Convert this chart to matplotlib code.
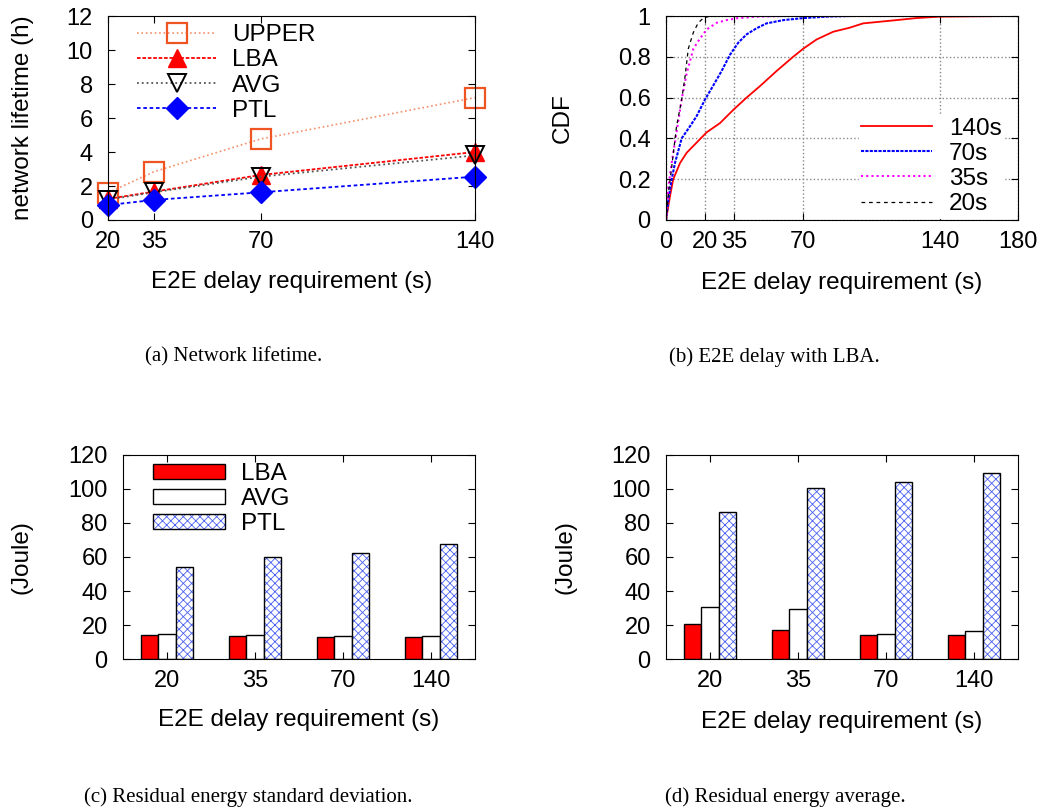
import numpy as np
from matplotlib import pyplot as plt

plt.rcParams['font.family'] = ['Liberation Sans', 'DejaVu Sans']
plt.rcParams['hatch.linewidth'] = 0.6

# (a) network lifetime
delays = [20, 35, 70, 140]
upper = [1.6, 2.84, 4.77, 7.2]
lba = [1.24, 1.67, 2.65, 4.0]
avg = [1.2, 1.63, 2.55, 3.8]
ptl = [0.88, 1.18, 1.63, 2.55]

# (b) CDF of E2E delay with LBA
cdf140_x = [0, 2, 3.7, 7.2, 10.6, 15.7, 20.8, 27.6, 34.4, 41.2, 48, 56.5, 65, 70.2, 77, 85.5, 94, 100.8, 117.8, 128, 140, 175.7]
cdf140_y = [0, 0.115, 0.2, 0.28, 0.33, 0.38, 0.43, 0.475, 0.54, 0.6, 0.656, 0.73, 0.8, 0.84, 0.885, 0.923, 0.943, 0.964, 0.98, 0.99, 0.997, 1.0]
cdf70_x = [0, 1.2, 2.9, 4.6, 8, 12.3, 15.7, 19.9, 24.2, 28.4, 32.7, 37, 41.2, 46.3, 51.4, 60, 70.2, 83.8, 94]
cdf70_y = [0, 0.1, 0.2, 0.28, 0.4, 0.46, 0.51, 0.59, 0.66, 0.73, 0.81, 0.87, 0.91, 0.94, 0.964, 0.98, 0.99, 0.998, 1.0]
cdf35_x = [0, 1.2, 2.9, 5.4, 8, 10.6, 14, 17.4, 20.8, 25.9, 31, 36.1, 46.3, 60]
cdf35_y = [0, 0.16, 0.28, 0.43, 0.59, 0.72, 0.84, 0.89, 0.934, 0.967, 0.98, 0.989, 0.997, 1.0]
cdf20_x = [0, 1.2, 2.9, 5.4, 8, 9.7, 11.4, 14, 16.5, 19.1, 22.5]
cdf20_y = [0, 0.13, 0.26, 0.46, 0.59, 0.7, 0.84, 0.92, 0.967, 0.99, 1.0]

# (c) residual energy standard deviation, (d) residual energy average
groups = ['20', '35', '70', '140']
std_lba = [13.9, 13.5, 12.8, 13.2]
std_avg = [14.5, 14.3, 13.4, 13.8]
std_ptl = [54.4, 59.9, 62.3, 67.4]
avg_lba = [20.4, 16.9, 14.3, 14.1]
avg_avg = [30.8, 29.7, 14.9, 16.7]
avg_ptl = [86.6, 100.4, 104.1, 109.2]

TICK = 17
LAB = 17.5
LEG = 17.5

fig = plt.figure(figsize=[10.5, 8.1], dpi=100)
axa = fig.add_axes([0.1029, 0.7284, 0.3495, 0.2518])
axb = fig.add_axes([0.6343, 0.7284, 0.3352, 0.2518])
axc = fig.add_axes([0.1171, 0.1864, 0.3352, 0.2519])
axd = fig.add_axes([0.6343, 0.1864, 0.3352, 0.2519])

def style(ax):
    ax.tick_params(direction='in', top=True, right=True, length=5, labelsize=TICK)
    ax.tick_params(axis='x', pad=8)
    ax.tick_params(axis='y', pad=11)

# ---- (a)
axa.plot(delays, upper, ':', color='#f4906a', lw=1.2, marker='s', ms=15,
         mfc='none', mec='#ee5522', mew=1.6, label='UPPER')
axa.plot(delays, lba, '--', color='red', lw=1.3, dashes=(2, 1), marker='^', ms=13,
         mfc='red', mec='red', label='LBA')
axa.plot(delays, avg, ':', color='#555555', lw=1.3, marker='v', ms=13,
         mfc='none', mec='black', mew=1.4, label='AVG')
axa.plot(delays, ptl, '--', color='blue', lw=1.3, dashes=(2, 1.5), marker='D', ms=11,
         mfc='blue', mec='blue', label='PTL')
axa.set_xlim(20, 140)
axa.set_ylim(0, 12)
axa.set_xticks(delays)
axa.set_yticks(range(0, 13, 2))
style(axa)
for ln in axa.lines:
    ln.set_clip_on(False)
axa.set_xlabel('E2E delay requirement (s)', fontsize=LAB)
axa.xaxis.set_label_coords(0.5, -0.304)
axa.xaxis.label.set_va('center')
axa.set_ylabel('network lifetime (h)', fontsize=LAB)
axa.yaxis.set_label_coords(-0.232, 0.5)
axa.yaxis.label.set_va('center')
axa.legend(loc='upper left', frameon=False, fontsize=LEG, handlelength=3.25,
           handletextpad=0.66, labelspacing=0.13, borderaxespad=0, borderpad=0,
           bbox_to_anchor=(0.08, 0.96))

# ---- (b)
axb.plot(cdf140_x, cdf140_y, '-', color='red', lw=1.3, label='140s')
axb.plot(cdf70_x, cdf70_y, color='blue', lw=1.5, dashes=(1.5, 0.6), label='70s')
axb.plot(cdf35_x, cdf35_y, color='magenta', lw=1.5, dashes=(1, 1.5), label='35s')
axb.plot(cdf20_x, cdf20_y, color='black', lw=0.9, dashes=(3, 3), label='20s')
axb.set_xlim(0, 180)
axb.set_ylim(0, 1)
axb.set_xticks([0, 20, 35, 70, 140, 180])
axb.set_yticks([0, 0.2, 0.4, 0.6, 0.8, 1])
axb.set_yticklabels(['0', '0.2', '0.4', '0.6', '0.8', '1'])
axb.grid(True, color='#888888', ls=':', lw=1.0)
axb.set_axisbelow(True)
style(axb)
axb.set_xlabel('E2E delay requirement (s)', fontsize=LAB)
axb.xaxis.set_label_coords(0.5, -0.31)
axb.xaxis.label.set_va('center')
axb.set_ylabel('CDF', fontsize=LAB)
axb.yaxis.set_label_coords(-0.293, 0.5)
axb.yaxis.label.set_va('center')
lg = axb.legend(loc='lower right', frameon=True, fontsize=LEG, handlelength=2.9,
                handletextpad=0.7, labelspacing=0.13, borderaxespad=0,
                fancybox=False, borderpad=0.1, bbox_to_anchor=(0.96, 0.012))
lg.get_frame().set_edgecolor('white')
lg.get_frame().set_facecolor('white')
lg.get_frame().set_alpha(1)
lg.set_zorder(2)

# ---- (c), (d)
pos = np.arange(len(groups))
w = 0.2

def bars(ax, a, b, c, legend):
    h1 = ax.bar(pos - w, a, w, color='red', edgecolor='black', lw=1.0)
    h2 = ax.bar(pos, b, w, color='white', edgecolor='black', lw=1.0)
    h3a = ax.bar(pos + w, c, w, color='white', edgecolor='#4a60f0', hatch='xxxx', lw=0)
    h3b = ax.bar(pos + w, c, w, fill=False, edgecolor='black', lw=1.0)
    ax.set_xlim(-0.5, 3.5)
    ax.set_ylim(0, 120)
    ax.set_xticks(pos)
    ax.set_xticklabels(groups)
    ax.set_yticks(range(0, 121, 20))
    style(ax)
    ax.set_xlabel('E2E delay requirement (s)', fontsize=LAB)
    ax.xaxis.label.set_va('center')
    ax.set_ylabel('(Joule)', fontsize=LAB)
    ax.yaxis.label.set_va('center')
    if legend:
        ax.legend([h1, h2, (h3a, h3b)], ['LBA', 'AVG', 'PTL'], loc='upper left',
                  frameon=False, fontsize=LEG, handlelength=2.95, handleheight=0.55,
                  handletextpad=0.66, labelspacing=0.12, borderaxespad=0, borderpad=0,
                  bbox_to_anchor=(0.085, 0.96))

bars(axc, std_lba, std_avg, std_ptl, True)
axc.xaxis.set_label_coords(0.5, -0.299)
axc.yaxis.set_label_coords(-0.287, 0.5)
bars(axd, avg_lba, avg_avg, avg_ptl, False)
axd.xaxis.set_label_coords(0.5, -0.31)
axd.yaxis.set_label_coords(-0.287, 0.5)

# captions
cap = dict(family=['Liberation Serif', 'DejaVu Serif'], fontsize=15, ha='center', va='center')
fig.text(234 / 1050, 1 - 357 / 810, '(a) Network lifetime.', **cap)
fig.text(774 / 1050, 1 - 357 / 810, '(b) E2E delay with LBA.', **cap)
fig.text(248 / 1050, 1 - 797 / 810, '(c) Residual energy standard deviation.', **cap)
fig.text(785 / 1050, 1 - 797 / 810, '(d) Residual energy average.', **cap)

fig.savefig('out.png', dpi=100)
